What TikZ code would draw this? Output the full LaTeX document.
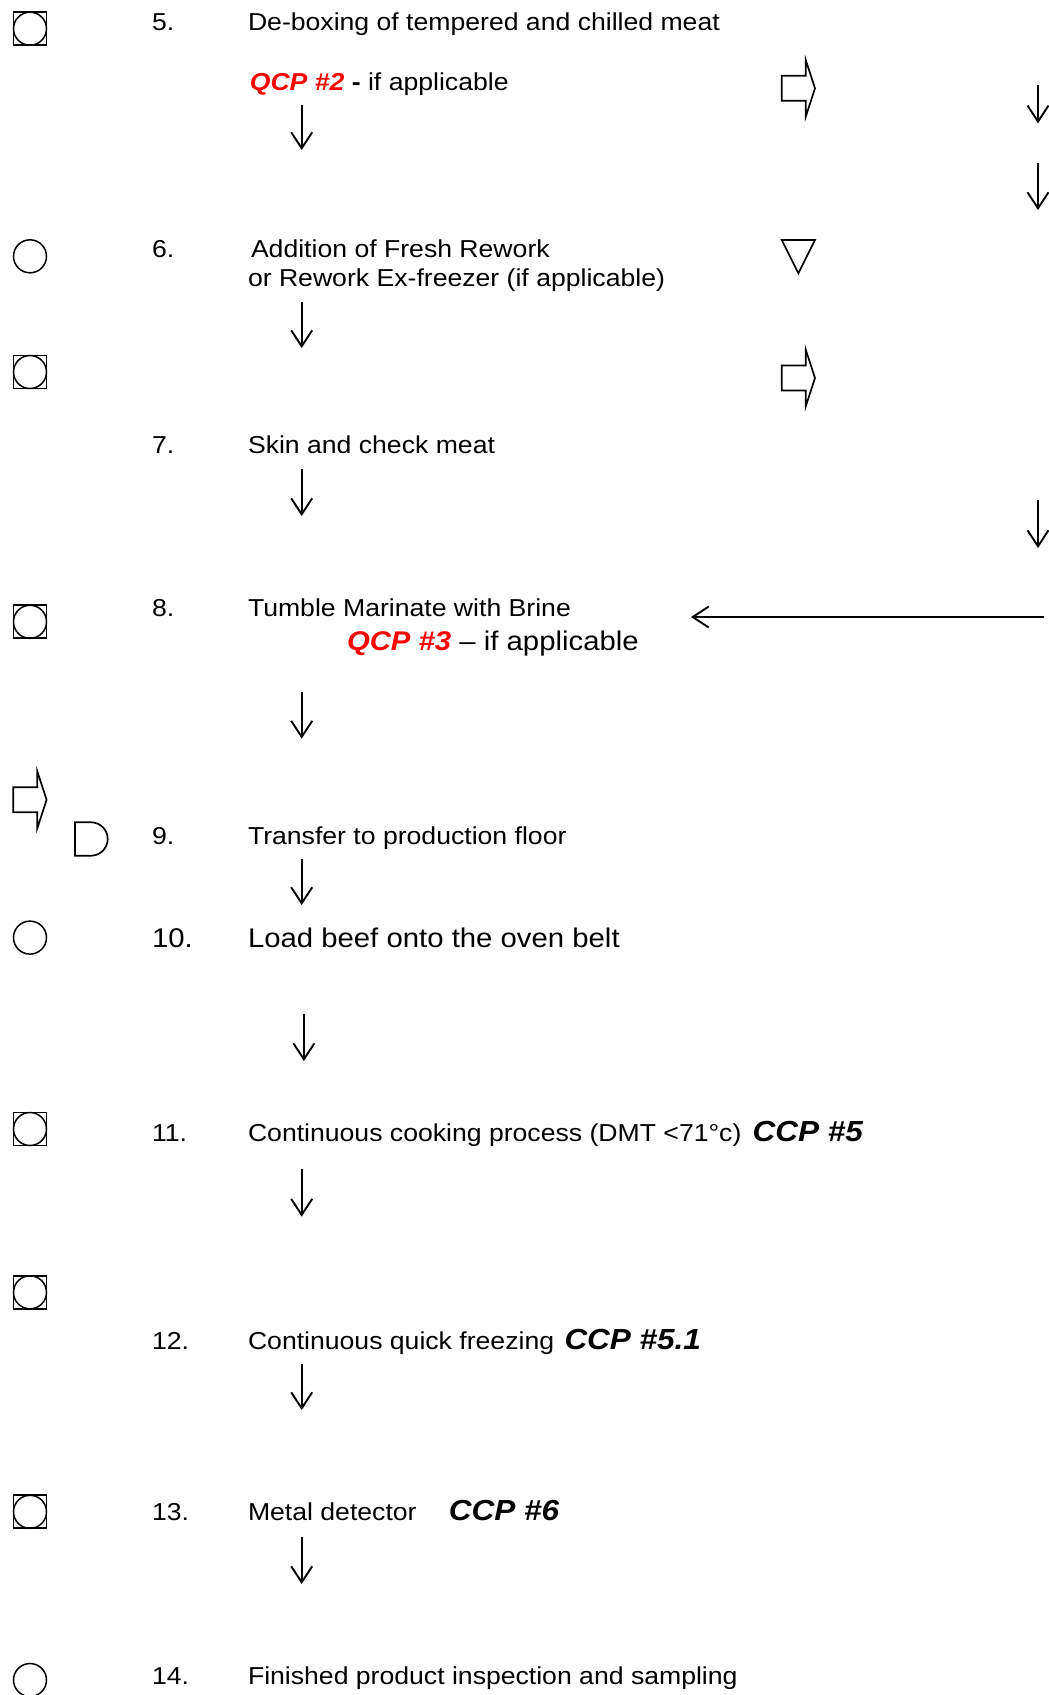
\documentclass[tikz,border=0pt]{standalone}
\usepackage{fontspec}
\setmainfont[FakeStretch=1.086]{Liberation Sans}
\usetikzlibrary{arrows.meta}
\tikzset{
  txt/.style={anchor=base west, inner sep=0pt, outer sep=0pt, font=\fontsize{24.5}{29}\selectfont},
  bigtxt/.style={txt, font=\fontsize{27}{32}\selectfont},
  ccptxt/.style={txt, font=\fontsize{29}{34}\selectfont\bfseries\itshape},
  flow/.style={line width=1.9pt, -{Straight Barb[length=16pt,width=21pt,line width=1.9pt]}},
  sqbox/.style={draw, line width=1.9pt, minimum size=33pt, inner sep=0pt},
  opcirc/.style={draw, circle, line width=1.5pt, minimum size=33pt, inner sep=0pt},
  shp/.style={line width=1.7pt, line join=miter},
  fatarrow/.pic={\draw[shp] (0,-12.5) -- (24,-12.5) -- (24,-28.5) -- (33.3,0) -- (24,28.5) -- (24,12.5) -- (0,12.5) -- cycle;},
  delaytri/.pic={\draw[shp] (0,0) -- (33.3,0) -- (16.65,33.3) -- cycle;},
  delayD/.pic={\draw[shp] (16,0) -- (0,0) -- (0,33.4) -- (16,33.4) arc[start angle=90, end angle=-90, radius=16.7] -- cycle;}
}
\begin{document}
\begin{tikzpicture}[x=1pt,y=-1pt]
\useasboundingbox (0,0) rectangle (1049,1695);

% ---- left symbols
\node[sqbox] (s5) at (30,28.7) {};
\node[opcirc] (s5c) at (30,28.7) {};
\node[opcirc] (c6) at (30,256.3) {};
\node[sqbox] (s6b) at (30,372) {};
\node[opcirc] (s6bc) at (30,372) {};
\node[sqbox] (s8) at (30,621.8) {};
\node[opcirc] (s8c) at (30,621.8) {};
\pic (fl9) at (13.3,799.8) {fatarrow};
\pic (d9) at (75,822.3) {delayD};
\node[opcirc] (c10) at (30,937.6) {};
\node[sqbox] (s11) at (30,1129) {};
\node[opcirc] (s11c) at (30,1129) {};
\node[sqbox] (s12) at (30,1292.3) {};
\node[opcirc] (s12c) at (30,1292.3) {};
\node[sqbox] (s13) at (30,1511.8) {};
\node[opcirc] (s13c) at (30,1511.8) {};
\node[opcirc] (c14) at (30,1680) {};

% ---- right symbols
\pic (fr5) at (781.7,88.3) {fatarrow};
\pic (tr6) at (781.7,240) {delaytri};
\pic (fr6) at (781.7,378) {fatarrow};

% ---- texts
\node[txt] (n5) at (152,30) {5.};
\node[txt] (t5) at (248,30) {De-boxing of tempered and chilled meat};
\node[txt] (q2) at (249.8,90.5) {{\color{red}\bfseries\itshape QCP \#2} {\bfseries -} if applicable};

\node[txt] (n6) at (152,257.3) {6.};
\node[txt] (t6a) at (251,257.3) {Addition of Fresh Rework};
\node[txt] (t6b) at (248,286.6) {or Rework Ex-freezer (if applicable)};

\node[txt] (n7) at (152,453.3) {7.};
\node[txt] (t7) at (248,453.3) {Skin and check meat};

\node[txt] (n8) at (152,616.7) {8.};
\node[txt] (t8a) at (248,616.7) {Tumble Marinate with Brine};
\node[bigtxt] (q3) at (347,650) {{\color{red}\bfseries\itshape QCP \#3} – if applicable};

\node[txt] (n9) at (152,844.6) {9.};
\node[txt] (t9) at (248,844.6) {Transfer to production floor};

\node[bigtxt] (n10) at (152,947.3) {10.};
\node[bigtxt] (t10) at (248,947.3) {Load beef onto the oven belt};

\node[txt] (n11) at (152,1141.7) {11.};
\node[txt] (t11) at (248,1141.7) {Continuous cooking process (DMT <71°c)};
\node[ccptxt] (ccp5) at (752.7,1141.7) {CCP \#5};

\node[txt] (n12) at (152,1349.6) {12.};
\node[txt] (t12) at (248,1349.6) {Continuous quick freezing};
\node[ccptxt] (ccp51) at (564.5,1349.6) {CCP \#5.1};

\node[txt] (n13) at (152,1520.4) {13.};
\node[txt] (t13) at (248,1520.4) {Metal detector};
\node[ccptxt] (ccp6) at (448.8,1520.4) {CCP \#6};

\node[txt] (n14) at (152,1684.6) {14.};
\node[txt] (t14) at (248,1684.6) {Finished product inspection and sampling};

% ---- flow arrows (main column)
\coordinate (a1s) at (301.7,105);   \coordinate (a1e) at (301.7,150);
\coordinate (a2s) at (301.7,301.7); \coordinate (a2e) at (301.7,348);
\coordinate (a3s) at (301.7,469);   \coordinate (a3e) at (301.7,516);
\coordinate (a4s) at (301.7,692);   \coordinate (a4e) at (301.7,738.6);
\coordinate (a5s) at (301.7,858.6); \coordinate (a5e) at (301.7,905);
\coordinate (a6s) at (303.9,1014);  \coordinate (a6e) at (303.9,1061);
\coordinate (a7s) at (301.7,1169);  \coordinate (a7e) at (301.7,1216.6);
\coordinate (a8s) at (301.7,1363.6);\coordinate (a8e) at (301.7,1410);
\coordinate (a9s) at (301.7,1536.7);\coordinate (a9e) at (301.7,1584);
\foreach \i in {1,...,9} \draw[flow] (a\i s) -- (a\i e);

% ---- right column arrows
\coordinate (r1s) at (1038,85);    \coordinate (r1e) at (1038,123.3);
\coordinate (r2s) at (1038,163.3); \coordinate (r2e) at (1038,210);
\coordinate (r3s) at (1038,499.6); \coordinate (r3e) at (1038,548);
\foreach \i in {1,2,3} \draw[flow] (r\i s) -- (r\i e);

\coordinate (hs) at (1044,617);
\coordinate (he) at (691,617);
\draw[flow] (hs) -- (he);
\end{tikzpicture}
\end{document}
